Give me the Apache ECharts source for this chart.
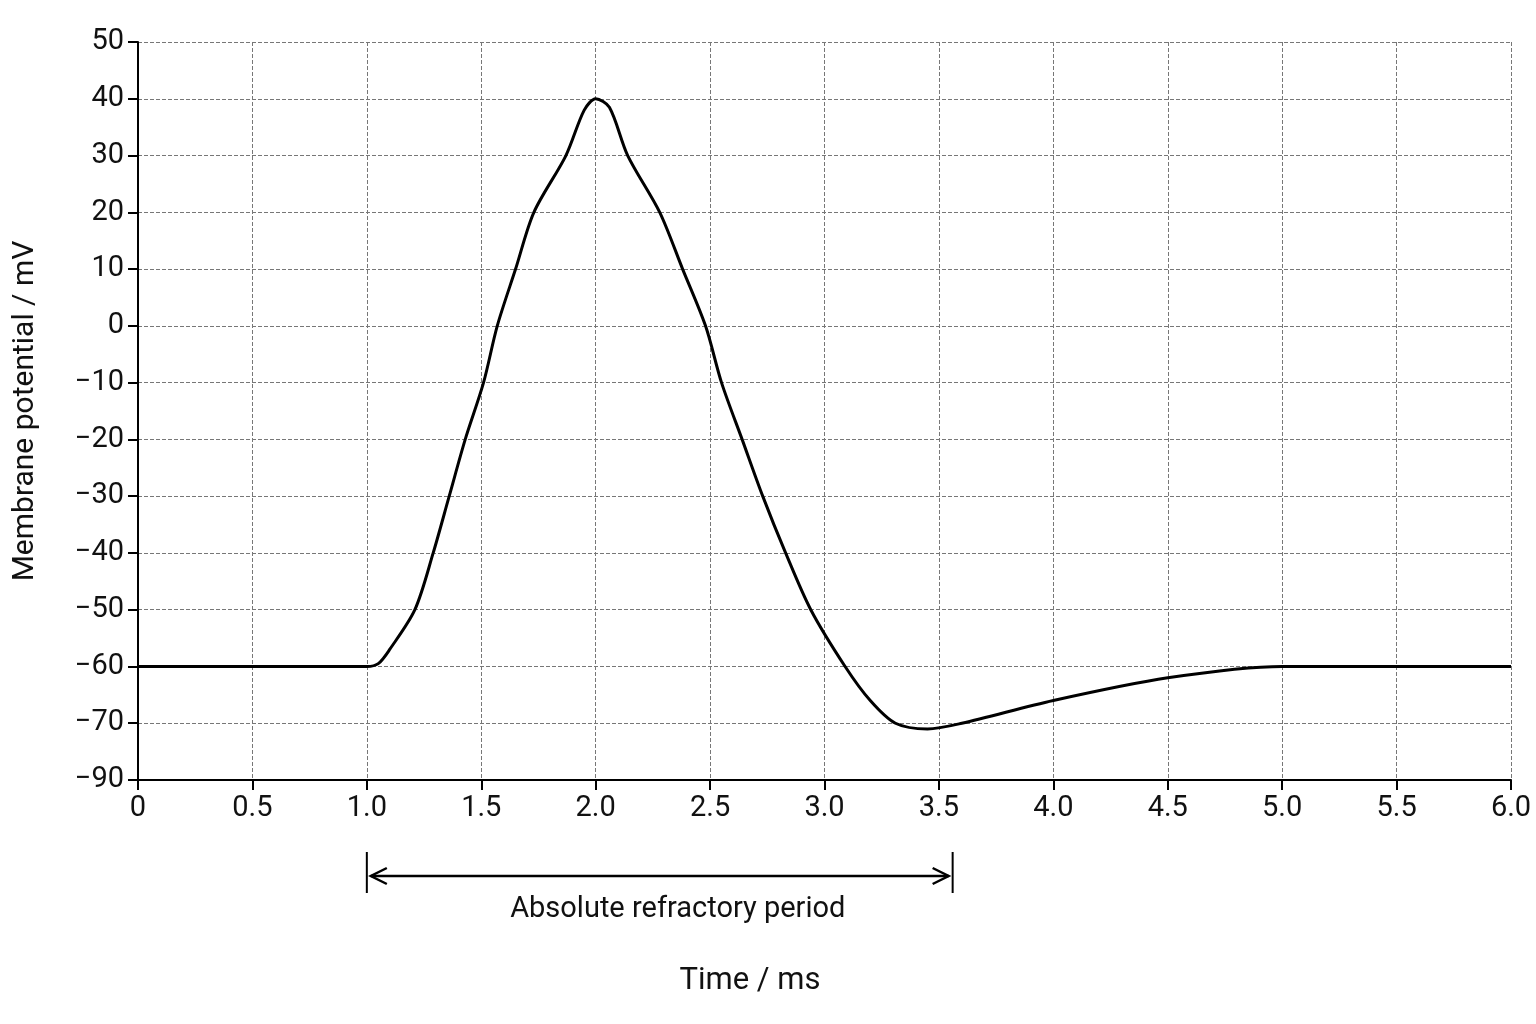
<!DOCTYPE html>
<html><head><meta charset="utf-8">
<script src="https://cdn.jsdelivr.net/npm/echarts@6/dist/echarts.min.js"></script>
<style>html,body{margin:0;padding:0;background:#fff}#c{width:1536px;height:1024px}</style>
</head><body><div id="c"></div>
<script>
const timeMs = [0,1.0,1.05,1.1,1.21,1.29,1.36,1.43,1.51,1.57,1.65,1.73,1.87,1.95,2.0,2.06,2.14,2.28,2.38,2.48,2.55,2.64,2.73,2.83,2.94,3.09,3.2,3.31,3.45,3.6,4.0,4.5,5.0,6.0];
const potential = [-60,-60,-59.5,-57,-50,-40,-30,-20,-10,0,10,20,30,38,40,38.5,30,20,10,0,-10,-20,-30,-40,-50,-60,-66,-70,-71,-70,-66,-62,-60,-60];
const arrowRange = [1.0, 3.56];
const arrowLabel = 'Absolute refractory period';
const xTitle = 'Time / ms';
const F = 'Roboto,"Liberation Sans",sans-serif';
const chart = echarts.init(document.getElementById('c'));
chart.setOption({
  animation:false,
  grid:{left:138,right:25,top:42,bottom:244},
  xAxis:{type:'value',min:0,max:6,interval:0.5,
    axisLine:{onZero:false,lineStyle:{color:'#000',width:2}},axisTick:{length:10,lineStyle:{color:'#000',width:2}},
    axisLabel:{fontSize:29,color:'#111',fontFamily:F,margin:14,formatter:v=>v===0?'0':v.toFixed(1)},
    splitLine:{show:true,lineStyle:{type:'dashed',color:'#777',width:1}}},
  yAxis:{type:'value',min:-80,max:50,interval:10,
    name:'Membrane potential / mV',nameLocation:'middle',nameGap:98,nameTextStyle:{fontSize:30,color:'#111',fontFamily:F},
    axisLine:{show:true,onZero:false,lineStyle:{color:'#000',width:2}},axisTick:{show:true,length:10,lineStyle:{color:'#000',width:2}},
    axisLabel:{fontSize:29,color:'#111',fontFamily:F,margin:14,formatter:v=>{if(v===-80)v=-90;return v<0?'\u2212'+Math.abs(v):String(v);}},
    splitLine:{show:true,lineStyle:{type:'dashed',color:'#777',width:1}}},
  series:[{type:'line',data:timeMs.map((t,i)=>[t,potential[i]]),smooth:0.3,showSymbol:false,
    lineStyle:{color:'#000',width:3}}]
});
const p1 = chart.convertToPixel({gridIndex:0},[arrowRange[0],-80]);
const p2 = chart.convertToPixel({gridIndex:0},[arrowRange[1],-80]);
const ay = p1[1]+96;
chart.setOption({graphic:[
  {type:'line',shape:{x1:p1[0],y1:ay-24,x2:p1[0],y2:ay+17},style:{stroke:'#000',lineWidth:2}},
  {type:'line',shape:{x1:p2[0],y1:ay-24,x2:p2[0],y2:ay+17},style:{stroke:'#000',lineWidth:2}},
  {type:'line',shape:{x1:p1[0]+4,y1:ay,x2:p2[0]-4,y2:ay},style:{stroke:'#000',lineWidth:2.5}},
  {type:'polyline',shape:{points:[[p1[0]+20,ay-8],[p1[0]+4,ay],[p1[0]+20,ay+8]]},style:{stroke:'#000',lineWidth:2.5,fill:null}},
  {type:'polyline',shape:{points:[[p2[0]-20,ay-8],[p2[0]-4,ay],[p2[0]-20,ay+8]]},style:{stroke:'#000',lineWidth:2.5,fill:null}},
  {type:'text',x:(p1[0]+p2[0])/2+18,y:ay+34,style:{text:arrowLabel,fontSize:29,fill:'#111',fontFamily:F,align:'center',verticalAlign:'middle'}},
  {type:'text',x:750,y:ay+105,style:{text:xTitle,fontSize:31,fill:'#111',fontFamily:F,align:'center',verticalAlign:'middle'}}
]});
</script></body></html>
